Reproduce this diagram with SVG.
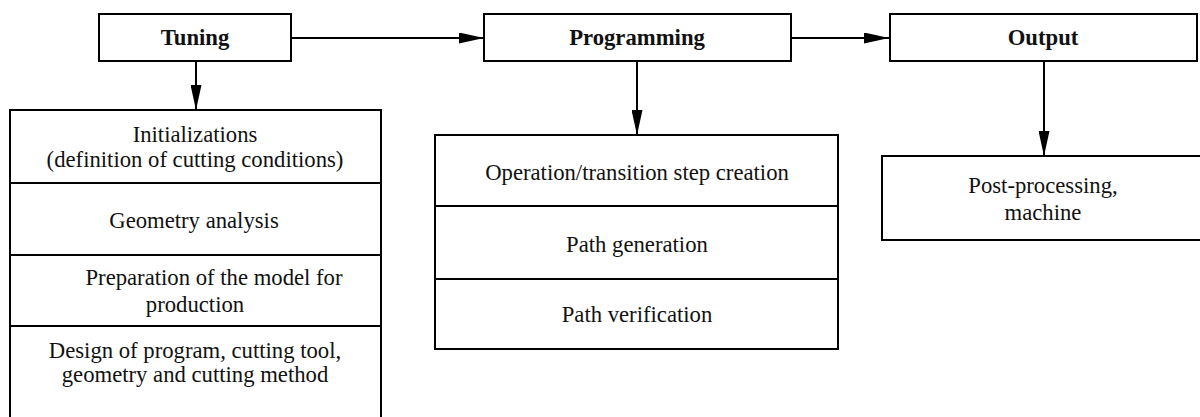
<svg xmlns="http://www.w3.org/2000/svg" width="1200" height="417" viewBox="0 0 1200 417">
  <style>
    .box { fill: #ffffff; stroke: #000000; stroke-width: 2; }
    .div { stroke: #000000; stroke-width: 2; }
    text { font-family: 'Liberation Serif', 'DejaVu Serif', serif; font-size: 22.7px; fill: #111111; text-anchor: middle; }
    .head { font-weight: bold; }
    .conn { fill: none; stroke: #000000; stroke-width: 2; marker-end: url(#arrow); }
  </style>
  <defs>
    <marker id="arrow" markerUnits="userSpaceOnUse" markerWidth="25" markerHeight="11" refX="25" refY="5.5" orient="auto">
      <path d="M0,0 L25,5.5 L0,11 Z" fill="#000000"/>
    </marker>
  </defs>
  <rect width="1200" height="417" fill="#ffffff"/>

  <!-- connectors -->
  <g id="connectors">
    <line class="conn" x1="291" y1="38" x2="484" y2="38"/>
    <line class="conn" x1="791" y1="38" x2="889" y2="38"/>
    <line class="conn" x1="196" y1="61" x2="196" y2="110"/>
    <line class="conn" x1="637" y1="61" x2="637" y2="135"/>
    <line class="conn" x1="1044" y1="61" x2="1044" y2="156"/>
  </g>

  <!-- stage headers -->
  <g id="tuning">
    <rect class="box" x="99" y="14" width="192" height="47"/>
    <text class="head" x="195" y="45">Tuning</text>
  </g>
  <g id="programming">
    <rect class="box" x="484" y="14" width="307" height="47"/>
    <text class="head" x="637" y="45">Programming</text>
  </g>
  <g id="output">
    <rect class="box" x="890" y="14" width="307" height="47"/>
    <text class="head" x="1043" y="45">Output</text>
  </g>

  <!-- tuning steps -->
  <g id="tuning-steps">
    <rect class="box" x="10" y="110" width="371" height="320"/>
    <line class="div" x1="10" y1="183" x2="381" y2="183"/>
    <line class="div" x1="10" y1="255" x2="381" y2="255"/>
    <line class="div" x1="10" y1="326" x2="381" y2="326"/>
    <text x="195" y="142">Initializations</text>
    <text x="195" y="167">(definition of cutting conditions)</text>
    <text x="194" y="228">Geometry analysis</text>
    <text x="214" y="285">Preparation of the model for</text>
    <text x="195" y="312">production</text>
    <text x="195" y="358">Design of program, cutting tool,</text>
    <text x="195" y="382">geometry and cutting method</text>
  </g>

  <!-- programming steps -->
  <g id="programming-steps">
    <rect class="box" x="435" y="135" width="403" height="214"/>
    <line class="div" x1="435" y1="206" x2="838" y2="206"/>
    <line class="div" x1="435" y1="279" x2="838" y2="279"/>
    <text x="637" y="180">Operation/transition step creation</text>
    <text x="637" y="252">Path generation</text>
    <text x="637" y="322">Path verification</text>
  </g>

  <!-- output step -->
  <g id="post-processing">
    <rect class="box" x="882" y="156" width="322" height="84"/>
    <text x="1043" y="193">Post-processing,</text>
    <text x="1043" y="220">machine</text>
  </g>
</svg>
